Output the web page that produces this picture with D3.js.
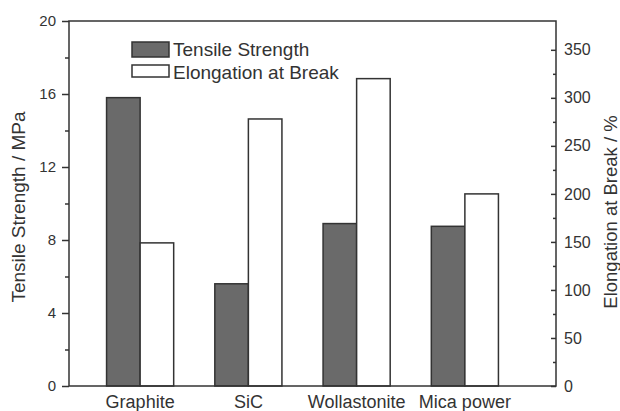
<!DOCTYPE html>
<html>
<head>
<meta charset="utf-8">
<script src="https://cdn.jsdelivr.net/npm/d3@7"></script>
<style>
  body { margin: 0; background: #fff; }
  text { font-family: "Liberation Sans", Arial, sans-serif; fill: #333; }
</style>
</head>
<body>
<svg id="chart"></svg>
<script>
var width = 620;
var height = 411;

var categories = ["Graphite", "SiC", "Wollastonite", "Mica power"];
var tensile = [15.8, 5.6, 8.9, 8.75];
var elongation = [149, 278, 320, 200];
var leftTicks = [0, 4, 8, 12, 16, 20];
var rightTicks = [0, 50, 100, 150, 200, 250, 300, 350];
var seriesNames = ["Tensile Strength", "Elongation at Break"];

var plot = {left: 69, right: 556, top: 21, bottom: 386};
var ink = "#333";
var darkFill = "#6a6a6a";

var svg = d3.select("#chart")
.attr("width", width)
.attr("height", height);

var x = d3.scaleBand()
.domain(categories)
.range([86, 519])
.paddingInner(0.38)
.paddingOuter(0.19);

var xs = d3.scaleBand()
.domain([0, 1])
.range([0, x.bandwidth()]);

var yL = d3.scaleLinear().domain([0, 20]).range([plot.bottom, plot.top]);
var yR = d3.scaleLinear().domain([0, 380]).range([plot.bottom, plot.top]);

// bars
var groups = svg.append("g")
.selectAll("g")
.data(categories)
.enter()
.append("g")
.attr("transform", function (d) { return "translate(" + x(d) + ",0)"; });

groups.append("rect")
.attr("x", xs(0))
.attr("width", xs.bandwidth())
.attr("y", function (d, i) { return yL(tensile[i]); })
.attr("height", function (d, i) { return plot.bottom - yL(tensile[i]); })
.style("fill", darkFill)
.style("stroke", ink)
.style("stroke-width", 1.5);

groups.append("rect")
.attr("x", xs(1))
.attr("width", xs.bandwidth())
.attr("y", function (d, i) { return yR(elongation[i]); })
.attr("height", function (d, i) { return plot.bottom - yR(elongation[i]); })
.style("fill", "#fff")
.style("stroke", ink)
.style("stroke-width", 1.5);

// frame
svg.append("rect")
.attr("x", plot.left)
.attr("y", plot.top)
.attr("width", plot.right - plot.left)
.attr("height", plot.bottom - plot.top)
.style("fill", "none")
.style("stroke", ink)
.style("stroke-width", 1.5);

function styleAxis (g) {
	g.select(".domain").remove();
	g.selectAll("line").style("stroke", ink).style("stroke-width", 1.5);
	g.selectAll("text").style("fill", ink);
}

// left axis
svg.append("g")
.attr("transform", "translate(" + plot.left + ",0)")
.call(d3.axisLeft(yL).tickValues(leftTicks).tickSize(7).tickPadding(6))
.call(styleAxis)
.selectAll("text")
.style("font-size", "15px");

svg.append("g")
.attr("transform", "translate(" + plot.left + ",0)")
.call(d3.axisLeft(yL).tickValues([2, 6, 10, 14, 18]).tickSize(4).tickFormat(""))
.call(styleAxis);

// right axis
svg.append("g")
.attr("transform", "translate(" + plot.right + ",0)")
.call(d3.axisRight(yR).tickValues(rightTicks).tickSize(-5).tickPadding(8))
.call(styleAxis)
.selectAll("text")
.style("font-size", "16px");

svg.append("g")
.attr("transform", "translate(" + plot.right + ",0)")
.call(d3.axisRight(yR).tickValues([25, 75, 125, 175, 225, 275, 325]).tickSize(-3).tickFormat(""))
.call(styleAxis);

// category labels
svg.append("g")
.attr("transform", "translate(0," + plot.bottom + ")")
.call(d3.axisBottom(x).tickSize(0).tickPadding(9))
.call(styleAxis)
.selectAll("text")
.style("font-size", "18px")
.attr("dy", "0.71em");

// axis titles
svg.append("text")
.attr("transform", "translate(25,207) rotate(-90)")
.style("text-anchor", "middle")
.style("font-size", "19px")
.text("Tensile Strength / MPa");

svg.append("text")
.attr("transform", "translate(617,212) rotate(-90)")
.style("text-anchor", "middle")
.style("font-size", "18.5px")
.text("Elongation at Break / %");

// legend
var legend = svg.append("g")
.attr("transform", "translate(132,42)");

legend.selectAll("rect")
.data(seriesNames)
.enter()
.append("rect")
.attr("x", 0)
.attr("y", function (d, i) { return i * 23; })
.attr("width", 37)
.attr("height", function (d, i) { return i == 0 ? 15 : 12; })
.style("fill", function (d, i) { return i == 0 ? darkFill : "#fff"; })
.style("stroke", ink)
.style("stroke-width", 1.5);

legend.selectAll("text")
.data(seriesNames)
.enter()
.append("text")
.attr("x", 41)
.attr("y", function (d, i) { return 14 + i * 23; })
.style("font-size", "19px")
.text(function (d) { return d; });
</script>
</body>
</html>
